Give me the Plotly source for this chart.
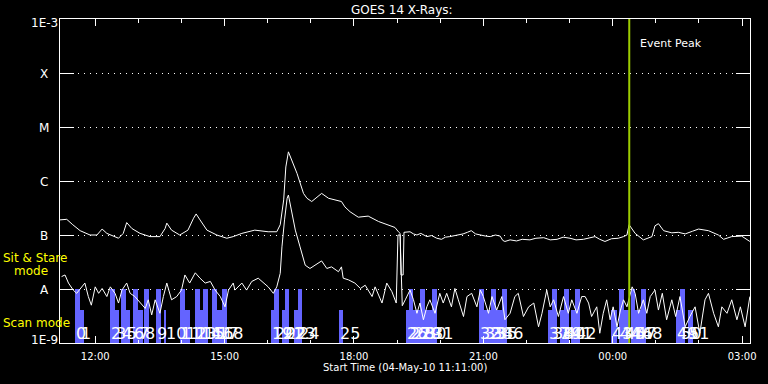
import pandas as pd
import plotly.graph_objects as go

# ---------------- data ----------------
DAY0 = pd.Timestamp("2010-05-04 00:00")
X_START = "2010-05-04 11:11"
X_END = "2010-05-05 03:11"
EVENT_PEAK = "2010-05-05 00:23"

# GOES 14 long channel (1-8 A): hours since 04-May-10 00:00, log10 flux (W/m^2)
long_hours = [11.18, 11.34, 11.48, 11.65, 11.88, 12.04, 12.16, 12.27, 12.54, 12.65,
              12.73, 12.85, 13.04, 13.27, 13.50, 13.62, 13.66, 13.77, 13.96, 14.15,
              14.28, 14.34, 14.43, 14.59, 14.82, 15.05, 15.20, 15.40, 15.70, 16.01,
              16.21, 16.29, 16.37, 16.42, 16.48, 16.56, 16.68, 16.83, 16.91, 17.02,
              17.25, 17.41, 17.56, 17.71, 17.79, 17.91, 18.10, 18.33, 18.57, 18.80,
              18.95, 19.03, 19.07, 19.09, 19.14, 19.16, 19.30, 19.38, 19.46, 19.55,
              19.69, 19.80, 19.92, 20.03, 20.12, 20.22, 20.35, 20.45, 20.53, 20.63,
              20.72, 20.82, 20.92, 21.05, 21.16, 21.28, 21.39, 21.45, 21.50, 21.62,
              21.77, 21.90, 22.08, 22.22, 22.40, 22.55, 22.71, 22.85, 23.01, 23.15,
              23.32, 23.45, 23.59, 23.70, 23.82, 23.97, 24.13, 24.25, 24.33, 24.38,
              24.52, 24.71, 24.91, 24.98, 25.06, 25.18, 25.37, 25.52, 25.68, 25.85,
              25.99, 26.22, 26.45, 26.57, 26.76, 26.99, 27.18]
long_log = [-6.72, -6.71, -6.81, -6.92, -7.00, -7.00, -6.89, -6.97, -7.06, -6.97,
            -6.77, -6.88, -6.97, -7.03, -7.03, -6.88, -6.78, -6.91, -7.00, -6.91,
            -6.69, -6.61, -6.72, -6.91, -7.00, -7.06, -7.03, -6.97, -6.91, -6.94,
            -6.94, -6.81, -6.35, -5.74, -5.46, -5.61, -5.86, -6.23, -6.32, -6.38,
            -6.23, -6.32, -6.35, -6.38, -6.48, -6.57, -6.67, -6.65, -6.75, -6.81,
            -6.86, -6.94, -6.97, -7.74, -7.74, -6.95, -6.94, -6.98, -7.00, -6.97,
            -7.03, -7.01, -7.06, -7.08, -7.04, -7.03, -7.01, -6.99, -6.98, -6.95,
            -6.92, -6.98, -7.00, -7.02, -7.03, -7.00, -7.02, -7.10, -7.12, -7.09,
            -7.11, -7.08, -7.09, -7.06, -7.05, -7.09, -7.08, -7.04, -7.06, -7.09,
            -7.08, -7.05, -7.03, -7.08, -7.12, -7.07, -7.06, -7.03, -7.00, -6.81,
            -6.97, -7.09, -7.03, -6.83, -6.79, -6.92, -6.96, -6.95, -6.98, -6.93,
            -6.89, -6.92, -7.00, -7.08, -7.03, -7.02, -7.12]

# GOES 14 short channel (0.5-4 A)
short_hours = [11.22, 11.30, 11.38, 11.49, 11.57, 11.65, 11.76, 11.84, 11.91, 12.00,
               12.08, 12.16, 12.27, 12.35, 12.46, 12.54, 12.62, 12.73, 12.81, 12.92,
               13.04, 13.16, 13.23, 13.31, 13.39, 13.50, 13.58, 13.66, 13.77, 13.89,
               14.00, 14.08, 14.19, 14.32, 14.43, 14.55, 14.67, 14.78, 14.90, 15.01,
               15.09, 15.20, 15.24, 15.40, 15.51, 15.63, 15.78, 15.90, 16.01, 16.13,
               16.21, 16.29, 16.33, 16.39, 16.45, 16.48, 16.54, 16.64, 16.75, 16.87,
               16.98, 17.10, 17.25, 17.37, 17.48, 17.64, 17.71, 17.75, 17.87, 18.02,
               18.15, 18.26, 18.42, 18.49, 18.65, 18.76, 18.88, 18.98, 19.02, 19.07,
               19.12, 19.19, 19.26, 19.30, 19.38, 19.46, 19.53, 19.61, 19.69, 19.76,
               19.88, 19.99, 20.07, 20.15, 20.26, 20.34, 20.42, 20.54, 20.62, 20.73,
               20.85, 20.93, 21.00, 21.12, 21.20, 21.31, 21.43, 21.50, 21.62, 21.73,
               21.81, 21.93, 22.05, 22.17, 22.28, 22.36, 22.47, 22.55, 22.63, 22.74,
               22.86, 22.97, 23.05, 23.17, 23.28, 23.36, 23.44, 23.51, 23.63, 23.70,
               23.78, 23.86, 23.94, 24.01, 24.10, 24.18, 24.25, 24.33, 24.45, 24.52,
               24.60, 24.71, 24.79, 24.87, 24.98, 25.06, 25.15, 25.25, 25.37, 25.46,
               25.56, 25.68, 25.79, 25.91, 26.02, 26.14, 26.22, 26.34, 26.45, 26.53,
               26.65, 26.76, 26.88, 26.96, 27.07, 27.18]
short_log = [-7.77, -7.74, -7.89, -8.02, -8.08, -7.99, -7.89, -8.14, -8.30, -7.96,
             -8.08, -7.99, -8.14, -7.96, -8.08, -8.26, -8.02, -7.89, -8.08, -8.14,
             -8.26, -8.36, -8.20, -8.48, -8.20, -8.45, -8.14, -7.89, -8.20, -8.14,
             -8.02, -7.74, -7.89, -7.70, -7.80, -7.89, -7.86, -8.02, -8.14, -8.33,
             -8.02, -7.89, -8.02, -7.89, -8.02, -7.86, -7.80, -7.89, -7.96, -8.08,
             -7.96, -7.71, -7.22, -6.72, -6.32, -6.26, -6.48, -6.91, -7.22, -7.56,
             -7.62, -7.56, -7.48, -7.62, -7.59, -7.68, -7.59, -7.80, -7.83, -7.89,
             -7.99, -7.93, -8.14, -7.96, -8.26, -7.89, -8.05, -8.26, -7.00, -7.00,
             -8.31, -8.20, -8.08, -8.02, -8.20, -8.45, -8.26, -8.57, -8.33, -8.20,
             -8.45, -8.08, -8.26, -8.08, -8.33, -7.99, -8.20, -8.51, -8.14, -8.08,
             -8.33, -8.02, -8.14, -8.45, -8.14, -8.39, -8.14, -8.57, -8.45, -8.14,
             -8.08, -8.51, -8.33, -8.26, -8.70, -8.45, -8.02, -8.33, -8.20, -8.51,
             -8.14, -8.45, -8.20, -8.45, -8.14, -8.14, -8.26, -8.51, -8.33, -8.82,
             -8.45, -8.20, -8.57, -8.33, -8.70, -8.39, -8.20, -8.33, -7.96, -8.08,
             -8.45, -8.20, -8.45, -8.14, -8.02, -8.39, -8.08, -8.57, -8.20, -8.51,
             -8.14, -8.70, -8.51, -8.33, -8.82, -8.20, -8.08, -8.45, -8.70, -8.33,
             -8.45, -8.20, -8.57, -8.33, -8.70, -8.14]

# Observation blocks: start (HH:MM), duration (min), mode (T = sit & stare, S = scan)
obs_start = ["11:32", "11:39", "12:20", "12:27", "12:36", "12:43", "12:53", "13:00",
             "13:08", "13:25", "13:37", "13:58", "14:05", "14:19", "14:26", "14:30",
             "14:43", "14:50", "14:57", "16:04", "16:09", "16:20", "16:24", "16:36",
             "16:42", "17:39", "19:12", "19:16", "19:22", "19:32", "19:39", "19:49",
             "20:54", "21:01", "21:11", "21:18", "21:26", "22:30", "22:35", "22:46",
             "22:52", "23:02", "23:08", "23:58", "00:09", "00:16", "00:26", "00:31",
             "00:39", "01:28", "01:34", "01:45"]
obs_dur = [7, 5, 7, 6, 7, 6, 7, 6, 7, 7, 1, 7, 7, 7, 4, 7, 7, 7, 7, 5, 6, 4, 6, 7, 6,
           6, 4, 6, 10, 7, 10, 7, 7, 10, 7, 8, 7, 5, 7, 6, 7, 6, 7, 8, 7, 8, 5, 8, 7,
           6, 7, 7]
obs_mode = ["T", "S", "T", "S", "T", "S", "T", "S", "T", "T", "S", "T", "S", "T", "S",
            "T", "T", "S", "T", "S", "T", "S", "T", "S", "T", "S", "S", "T", "S", "T",
            "S", "T", "T", "S", "T", "S", "T", "S", "T", "S", "T", "S", "T", "S", "T",
            "S", "T", "S", "T", "S", "T", "S"]
obs_label = [str(i) for i in range(len(obs_start))]

mode_top = {"T": 1e-8, "S": 4.1e-9}
BASE = 1e-9

y_ticks = [1e-9, 1e-8, 1e-7, 1e-6, 1e-5, 1e-4, 1e-3]
y_ticktext = ["1E-9", "A", "B", "C", "M", "X", "1E-3"]

# ---------------- build ----------------
def to_time(hours):
    return [DAY0 + pd.to_timedelta(h, unit="h") for h in hours]

def obs_time(hhmm):
    t = pd.Timestamp("2010-05-04 " + hhmm)
    if t.hour < 11:
        t += pd.Timedelta(days=1)
    return t

starts = [obs_time(s) for s in obs_start]

fig = go.Figure()
fig.add_trace(go.Bar(
    x=starts, y=[mode_top[m] - BASE for m in obs_mode], base=BASE,
    width=[d * 60000 for d in obs_dur], offset=0,
    marker=dict(color="#6464ff", line=dict(width=0)), showlegend=False,
    hoverinfo="skip"))

fig.add_trace(go.Scatter(x=to_time(long_hours), y=[10 ** v for v in long_log],
                         mode="lines", line=dict(color="white", width=1),
                         showlegend=False))
fig.add_trace(go.Scatter(x=to_time(short_hours), y=[10 ** v for v in short_log],
                         mode="lines", line=dict(color="white", width=1),
                         showlegend=False))

fig.add_shape(type="line", xref="x", yref="paper", x0=EVENT_PEAK, x1=EVENT_PEAK,
              y0=0, y1=1, line=dict(color="#9ccc00", width=2))

FONT = "DejaVu Sans"
ann = []
for s, lab in zip(starts, obs_label):
    ann.append(dict(x=s, y=-8.82, xref="x", yref="y", text=lab, showarrow=False,
                    xanchor="left", yanchor="middle", xshift=-1,
                    font=dict(family=FONT, size=16, color="white")))

# y-axis labels, centred at x ~ 44 px
label_y_px = [339.5, 290, 235.5, 181.5, 127.5, 73.5, 23]
for txt, py in zip(y_ticktext, label_y_px):
    ann.append(dict(x=(44 - 60) / 690, y=(343 - py) / 324, xref="paper", yref="paper",
                    text=txt, showarrow=False, xanchor="center", yanchor="middle",
                    font=dict(family=FONT, size=12, color="white")))

def pnote(txt, px, py, size, color="white", anchor="center"):
    ann.append(dict(x=(px - 60) / 690, y=(343 - py) / 324, xref="paper", yref="paper",
                    text=txt, showarrow=False, xanchor=anchor, yanchor="middle",
                    font=dict(family=FONT, size=size, color=color)))

pnote("GOES 14 X-Rays:", 402, 10, 12)
pnote("Start Time (04-May-10 11:11:00)", 405, 368, 10)
pnote("Sit & Stare", 1, 258, 12, "yellow", "left")
pnote("mode", 12, 271, 12, "yellow", "left")
pnote("Scan mode", 1, 323, 12, "yellow", "left")

ann.append(dict(x=EVENT_PEAK, y=(343 - 43) / 324, xref="x", yref="paper",
                text="Event Peak", showarrow=False, xanchor="left", yanchor="middle",
                xshift=9, font=dict(family=FONT, size=11, color="white")))

fig.update_layout(
    width=768, height=384,
    margin=dict(l=60, r=18, t=19, b=41, autoexpand=False),
    paper_bgcolor="black", plot_bgcolor="black",
    barmode="overlay", bargap=0,
    annotations=ann,
    xaxis=dict(type="date", range=[X_START, X_END], tick0="2010-05-04 00:00",
               dtick=3 * 3600000, tickformat="%H:%M", automargin=False,
               ticks="inside", ticklen=7, tickwidth=1, tickcolor="white",
               showline=True, linecolor="white", linewidth=1, mirror="ticks",
               showgrid=False, zeroline=False,
               tickfont=dict(family=FONT, size=10, color="white"),
               ticklabelstandoff=4,
               minor=dict(dtick=3600000, ticks="inside", ticklen=3.5,
                          tickcolor="white", tickwidth=1, showgrid=False)),
    yaxis=dict(type="log", range=[-9, -3], tickvals=y_ticks, automargin=False,
               showticklabels=False,
               ticks="inside", ticklen=14, tickwidth=1, tickcolor="white",
               showline=True, linecolor="white", linewidth=1, mirror="ticks",
               showgrid=True, gridcolor="white", gridwidth=1, griddash="1px,5px",
               zeroline=False),
)

fig.write_html("out.html",
               config={"displayModeBar": False},
               post_script="document.body.style.margin='0';"
                           "document.body.style.padding='0';"
                           "document.body.style.background='black';")
